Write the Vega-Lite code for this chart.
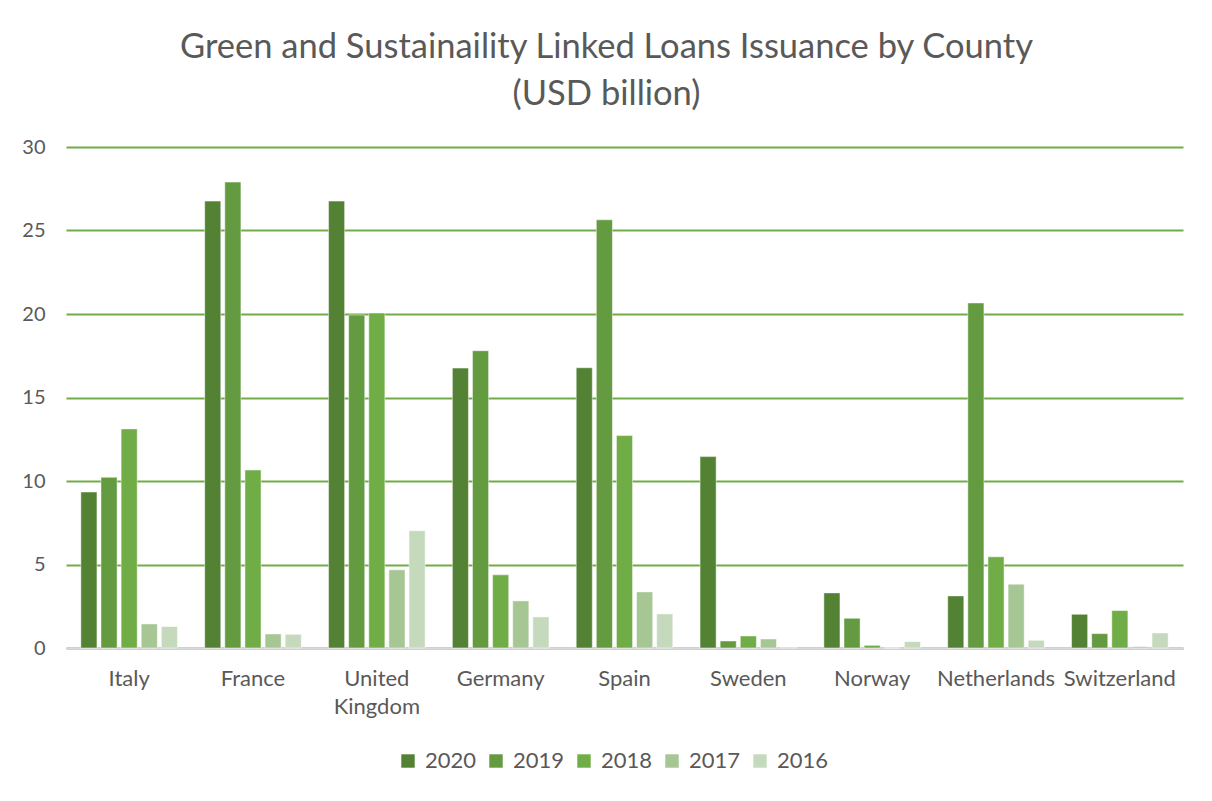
{
  "$schema": "https://vega.github.io/schema/vega-lite/v6.json",
  "width": 1117,
  "height": 501,
  "autosize": {"type": "none"},
  "padding": {"left": 66, "top": 147, "right": 29, "bottom": 153},
  "background": "#ffffff",
  "title": {
    "text": ["Green and Sustainaility Linked Loans Issuance by County", "(USD billion)"],
    "anchor": "middle",
    "frame": "group",
    "font": "Lato",
    "fontSize": 34.5,
    "fontWeight": "normal",
    "color": "#595959",
    "lineHeight": 47,
    "offset": 25,
    "dx": -18
  },
  "config": {
    "view": {"stroke": null},
    "font": "Lato"
  },
  "data": {
    "values": [
      {"country": "Italy", "year": "2020", "value": 9.34},
      {"country": "Italy", "year": "2019", "value": 10.22},
      {"country": "Italy", "year": "2018", "value": 13.12},
      {"country": "Italy", "year": "2017", "value": 1.44},
      {"country": "Italy", "year": "2016", "value": 1.28},
      {"country": "France", "year": "2020", "value": 26.76},
      {"country": "France", "year": "2019", "value": 27.9},
      {"country": "France", "year": "2018", "value": 10.66},
      {"country": "France", "year": "2017", "value": 0.84},
      {"country": "France", "year": "2016", "value": 0.82},
      {"country": "United Kingdom", "year": "2020", "value": 26.76},
      {"country": "United Kingdom", "year": "2019", "value": 19.94},
      {"country": "United Kingdom", "year": "2018", "value": 20.06},
      {"country": "United Kingdom", "year": "2017", "value": 4.68},
      {"country": "United Kingdom", "year": "2016", "value": 7.02},
      {"country": "Germany", "year": "2020", "value": 16.76},
      {"country": "Germany", "year": "2019", "value": 17.8},
      {"country": "Germany", "year": "2018", "value": 4.38},
      {"country": "Germany", "year": "2017", "value": 2.82},
      {"country": "Germany", "year": "2016", "value": 1.86},
      {"country": "Spain", "year": "2020", "value": 16.78},
      {"country": "Spain", "year": "2019", "value": 25.64},
      {"country": "Spain", "year": "2018", "value": 12.72},
      {"country": "Spain", "year": "2017", "value": 3.36},
      {"country": "Spain", "year": "2016", "value": 2.04},
      {"country": "Sweden", "year": "2020", "value": 11.46},
      {"country": "Sweden", "year": "2019", "value": 0.42},
      {"country": "Sweden", "year": "2018", "value": 0.72},
      {"country": "Sweden", "year": "2017", "value": 0.54},
      {"country": "Sweden", "year": "2016", "value": 0.06},
      {"country": "Norway", "year": "2020", "value": 3.3},
      {"country": "Norway", "year": "2019", "value": 1.78},
      {"country": "Norway", "year": "2018", "value": 0.16},
      {"country": "Norway", "year": "2017", "value": 0},
      {"country": "Norway", "year": "2016", "value": 0.38},
      {"country": "Netherlands", "year": "2020", "value": 3.12},
      {"country": "Netherlands", "year": "2019", "value": 20.66},
      {"country": "Netherlands", "year": "2018", "value": 5.46},
      {"country": "Netherlands", "year": "2017", "value": 3.82},
      {"country": "Netherlands", "year": "2016", "value": 0.46},
      {"country": "Switzerland", "year": "2020", "value": 2.02},
      {"country": "Switzerland", "year": "2019", "value": 0.86},
      {"country": "Switzerland", "year": "2018", "value": 2.24},
      {"country": "Switzerland", "year": "2017", "value": 0.08},
      {"country": "Switzerland", "year": "2016", "value": 0.9}
    ]
  },
  "mark": {"type": "bar", "stroke": "#ffffff", "strokeWidth": 0.8, "strokeOpacity": 0.6},
  "encoding": {
    "x": {
      "field": "country",
      "type": "nominal",
      "sort": ["Italy", "France", "United Kingdom", "Germany", "Spain", "Sweden", "Norway", "Netherlands", "Switzerland"],
      "scale": {"paddingInner": 0.22, "paddingOuter": 0.12},
      "axis": {
        "title": null,
        "labelAngle": 0,
        "labelFont": "Lato",
        "labelFontSize": 22,
        "labelColor": "#595959",
        "labelPadding": 20,
        "labelLineHeight": 28,
        "labelExpr": "datum.value == 'United Kingdom' ? ['United', 'Kingdom'] : datum.value",
        "ticks": false,
        "domainColor": "#d9d9d9",
        "domainWidth": 2,
        "grid": false
      }
    },
    "xOffset": {
      "field": "year",
      "type": "nominal",
      "sort": ["2020", "2019", "2018", "2017", "2016"],
      "scale": {"paddingInner": 0.2}
    },
    "y": {
      "field": "value",
      "type": "quantitative",
      "scale": {"domain": [0, 30]},
      "axis": {
        "title": null,
        "values": [0, 5, 10, 15, 20, 25, 30],
        "labelFont": "Lato",
        "labelFontSize": 20,
        "labelColor": "#595959",
        "labelPadding": 21,
        "ticks": false,
        "domain": false,
        "gridColor": "#70ad47",
        "gridWidth": 2
      }
    },
    "color": {
      "field": "year",
      "type": "nominal",
      "sort": ["2020", "2019", "2018", "2017", "2016"],
      "scale": {
        "domain": ["2020", "2019", "2018", "2017", "2016"],
        "range": ["#548235", "#649a40", "#70ad47", "#a6c693", "#c5d9bc"]
      },
      "legend": {
        "title": null,
        "orient": "none",
        "direction": "horizontal",
        "legendX": 331,
        "legendY": 603,
        "symbolType": "square",
        "symbolSize": 180,
        "symbolStrokeWidth": 0,
        "symbolOpacity": 1,
        "labelFont": "Lato",
        "labelFontSize": 22,
        "labelColor": "#595959",
        "labelOffset": 6,
        "columnPadding": 8
      }
    }
  }
}
